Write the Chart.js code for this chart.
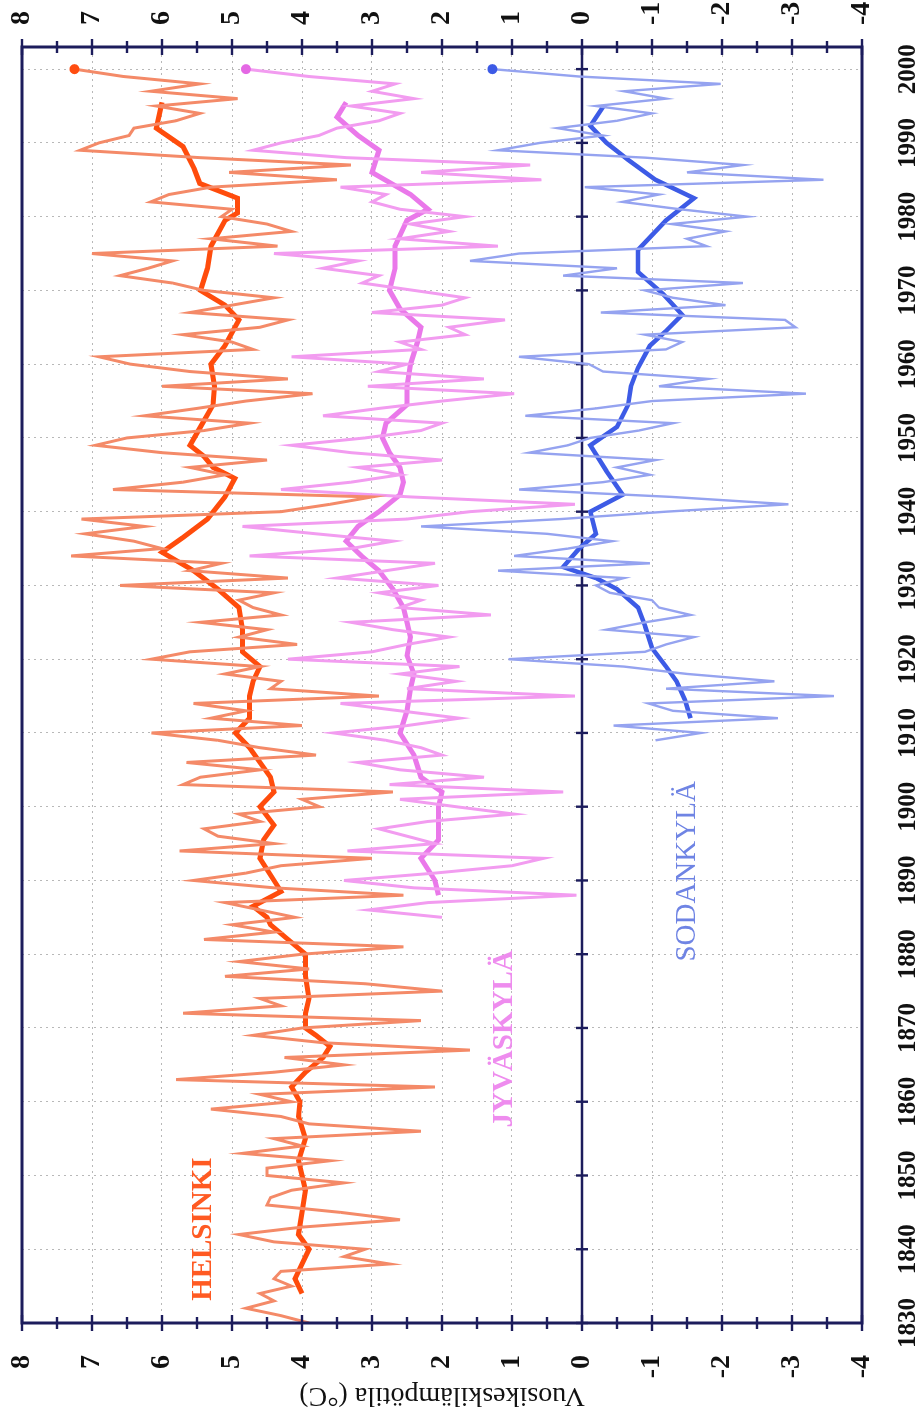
<!DOCTYPE html>
<html><head><meta charset="utf-8">
<script src="https://cdn.jsdelivr.net/npm/chart.js@4.4.1/dist/chart.umd.min.js"></script>
<style>
html,body{margin:0;padding:0;background:#fff;overflow:hidden;width:923px;height:1421px;}
#wrap{position:absolute;left:0;top:0;width:1421px;height:923px;transform-origin:0 0;transform:translate(0,1421px) rotate(-90deg);background:#fff;}
canvas{display:block;}
</style></head><body>
<div id="wrap"><canvas id="c" width="1421" height="923"></canvas></div>
<script>
// ---- data ----
const yearTicks = [1830,1840,1850,1860,1870,1880,1890,1900,1910,1920,1930,1940,1950,1960,1970,1980,1990,2000];
const tempTicks = [-4,-3,-2,-1,0,1,2,3,4,5,6,7,8];
const seriesNames = ['HELSINKI','JYVÄSKYLÄ','SODANKYLÄ'];
const axisTitle = 'Vuosikeskilämpötila (°C)';

const helsinkiFirstYear = 1830;
const helsinkiAnnual = [
 3.9,4.3,4.8,4.4,4.6,4.15,4.4,4.3,2.75,3.4,
 3.1,4.4,4.9,4.0,2.6,3.45,4.5,4.45,4.15,3.4,
 4.5,4.5,3.6,4.85,4.0,4.4,2.3,3.9,4.3,5.3,
 4.15,4.6,2.1,5.8,4.4,3.4,4.25,1.6,3.7,4.7,
 4.0,2.3,5.7,4.3,4.6,2.0,3.1,5.1,3.9,4.9,
 4.0,2.55,5.4,4.4,5.0,4.1,4.6,5.1,2.55,4.4,
 5.55,4.8,4.3,3.0,5.75,4.4,5.2,5.4,4.6,4.9,
 3.75,4.0,2.7,5.7,5.45,4.6,5.65,3.8,4.6,5.2,
 6.15,4.0,5.3,4.8,5.55,2.9,4.45,4.3,5.1,4.6,
 6.15,5.6,4.07,4.9,4.5,5.45,4.3,4.7,4.9,4.4,
 6.6,4.2,5.6,5.15,7.3,6.0,6.4,7.1,6.25,7.15,
 4.3,3.6,3.0,6.7,5.7,5.1,5.6,4.5,6.0,6.95,
 6.5,5.4,4.75,6.25,5.5,4.8,3.85,6.0,4.2,5.6,
 6.45,6.9,4.7,5.0,5.7,4.6,4.2,5.6,5.0,4.4,
 5.4,5.85,6.6,6.2,5.85,7.0,4.35,5.3,4.15,4.5,
 5.15,5.0,6.16,5.9,5.3,3.5,5.04,3.3,5.46,7.17,
 6.9,6.47,6.4,5.8,5.46,6.08,4.92,6.16,5.46,6.55,
 7.25];
const helsinkiSmoothYears = [1834,1836,1838,1840,1842,1845,1848,1850,1852,1855,1858,1860,1862,1864,1866,1867.5,1869,1870,1872,1874,1877,1880,1882,1884,1885,1886.5,1888.5,1890,1893,1895.5,1897.5,1900,1902,1904,1906,1908,1910,1912,1915,1917,1919,1921,1924,1927,1929.5,1932,1934.5,1936.5,1939,1942,1944.5,1946,1947.5,1949,1951.5,1954.5,1957,1960,1962.5,1966,1968,1970,1973,1976,1979.5,1980.5,1982.5,1984.5,1986.5,1989.5,1992,1995.5];
const helsinkiSmoothTemps = [4.0,4.1,4.0,3.9,4.05,4.0,3.95,4.0,4.05,3.95,4.05,4.03,4.15,3.95,3.7,3.6,3.8,3.95,3.95,3.9,3.95,3.95,4.2,4.45,4.5,4.7,4.3,4.4,4.6,4.55,4.4,4.6,4.4,4.45,4.6,4.75,4.95,4.75,4.75,4.7,4.6,4.85,4.85,4.9,5.2,5.55,6.0,5.7,5.35,5.1,4.96,5.27,5.4,5.6,5.45,5.27,5.25,5.3,5.1,4.9,5.1,5.45,5.35,5.3,5.1,4.92,4.92,5.46,5.54,5.7,6.08,6.0];

const jyvaskylaFirstYear = 1885;
const jyvaskylaAnnual = [
 2.0,3.05,2.2,0.08,2.4,
 3.4,2.1,1.0,0.55,3.35,2.1,2.5,2.9,2.2,0.97,
 1.8,2.6,0.27,2.75,1.4,2.6,3.2,2.0,2.3,2.8,
 3.55,2.5,1.75,2.6,3.45,0.1,2.5,1.8,2.6,1.75,
 4.2,3.0,2.5,1.9,2.7,3.3,1.3,2.6,2.3,2.9,
 2.05,3.5,2.8,2.1,4.75,3.3,2.7,3.8,4.85,2.5,
 1.6,0.1,2.45,4.3,3.3,2.6,3.2,2.0,3.3,4.15,
 3.1,2.3,2.0,3.7,2.9,2.0,0.97,3.06,1.4,2.9,
 2.5,4.15,2.3,2.6,1.67,1.9,1.1,3.0,2.0,1.67,
 2.4,3.14,2.9,3.7,3.2,4.4,1.2,2.6,1.9,2.45,
 1.67,2.6,3.0,2.8,3.45,0.58,2.3,0.74,3.37,4.7,
 4.3,3.76,3.5,2.9,2.6,3.3,2.4,3.0,2.67,3.9,
 4.8];
const jyvaskylaSmoothYears = [1888,1890,1893,1895.5,1898,1900,1902,1904,1907,1910,1913,1916,1918,1920.5,1923,1925,1927,1929.5,1932,1934,1936,1938,1940,1942.3,1944,1946,1948,1950,1952,1954.5,1957,1960,1963,1965,1967.5,1970,1973,1976,1979.5,1981,1983,1986,1989,1991,1993.5,1995.5];
const jyvaskylaSmoothTemps = [2.05,2.1,2.3,2.05,2.05,2.05,2.0,2.3,2.4,2.6,2.5,2.45,2.4,2.5,2.45,2.5,2.55,2.7,2.9,3.15,3.37,3.2,2.9,2.6,2.55,2.6,2.75,2.85,2.8,2.5,2.5,2.45,2.35,2.3,2.6,2.75,2.67,2.67,2.5,2.2,2.45,3.0,2.9,3.2,3.5,3.37];

const sodankylaFirstYear = 1909;
const sodankylaAnnual = [
 -1.05,
 -1.7,-0.45,-2.8,-1.3,-0.95,-3.6,-1.2,-2.75,-1.5,-0.6,
 1.05,-0.9,-1.2,-1.6,-0.35,-0.9,-1.55,-1.1,-1.0,-0.4,
 -0.2,-0.6,1.2,-0.97,0.97,0.2,-0.43,0.5,2.3,0.3,
 -1.2,-2.95,-1.28,0.9,-0.3,-0.97,-0.5,-1.05,0.75,0.2,
 -0.12,-0.81,-1.3,0.81,-0.2,-1.0,-3.2,-1.1,-1.8,-0.3,
 -0.1,0.9,-1.2,-1.43,-0.9,-3.05,-2.9,-0.27,-2.05,-1.3,
 -0.9,-2.3,0.27,-0.5,1.6,0.9,-1.78,-1.5,-2.05,-1.28,
 -2.36,-1.4,-0.58,-1.1,-0.04,-3.45,-1.5,-2.3,-0.9,1.2,
 0.6,-0.3,0.35,-0.5,-1.0,-0.2,-1.2,-0.6,-1.98,0.04,
 1.28];
const sodankylaSmoothYears = [1912,1914.5,1917,1919,1921.5,1924.5,1927,1929.5,1931,1932.5,1935,1937,1940,1942.3,1945.5,1949,1951.5,1954.5,1957,1959.5,1962.5,1964.5,1966.7,1969.5,1972.5,1975.5,1979.5,1982.5,1985,1987.7,1990,1992.3,1995];
const sodankylaSmoothTemps = [-1.55,-1.47,-1.35,-1.2,-1.0,-0.9,-0.8,-0.5,-0.2,0.27,0.04,-0.2,-0.12,-0.58,-0.35,-0.12,-0.5,-0.66,-0.7,-0.8,-0.97,-1.2,-1.43,-1.16,-0.8,-0.8,-1.2,-1.6,-1.05,-0.66,-0.35,-0.12,-0.31];

// ---- styling / layout (not data) ----
const SERIF = '"Liberation Serif","Times New Roman",serif';
const NAVY = '#1c1c5c';
const GRID = 'rgba(125,125,125,0.55)';
const labelAnchors = [ {x:1833, y:5.4}, {x:1856.5, y:1.1}, {x:1879, y:-1.5} ];
const labelStyles = [
  {color:'#ff5a22', weight:'bold'},
  {color:'#ee8cee', weight:'bold'},
  {color:'#6f84e4', weight:'normal'}
];

const annual = (first, arr) => arr.map((v,i)=>({x:first+i, y:v}));
const paired = (xs, ys) => xs.map((x,i)=>({x:x, y:ys[i]}));
const lastPoint = ctx => (ctx.dataIndex === ctx.dataset.data.length-1 ? 5 : 0);

const datasets = [
  {data:annual(helsinkiFirstYear,helsinkiAnnual), borderColor:'#f48a68', borderWidth:3, pointRadius:lastPoint, pointBackgroundColor:'#ff4d10', pointBorderWidth:0},
  {data:annual(jyvaskylaFirstYear,jyvaskylaAnnual), borderColor:'#f29cf0', borderWidth:3, pointRadius:lastPoint, pointBackgroundColor:'#e468e4', pointBorderWidth:0},
  {data:annual(sodankylaFirstYear,sodankylaAnnual), borderColor:'#95a3f0', borderWidth:2.4, pointRadius:lastPoint, pointBackgroundColor:'#3c5ae6', pointBorderWidth:0},
  {data:paired(helsinkiSmoothYears,helsinkiSmoothTemps), borderColor:'#ff4c0c', borderWidth:5, pointRadius:0},
  {data:paired(jyvaskylaSmoothYears,jyvaskylaSmoothTemps), borderColor:'#ea78ea', borderWidth:5, pointRadius:0},
  {data:paired(sodankylaSmoothYears,sodankylaSmoothTemps), borderColor:'#3d5be6', borderWidth:4.5, pointRadius:0}
];

const framePlugin = {
  id:'frameTicks',
  beforeDatasetsDraw(chart){
    const {ctx, chartArea:a, scales:{x, y}} = chart;
    const y0 = y.getPixelForValue(0);
    ctx.save();
    ctx.strokeStyle = NAVY; ctx.lineWidth = 2.6;
    ctx.beginPath(); ctx.moveTo(a.left, y0); ctx.lineTo(a.right, y0); ctx.stroke();
    ctx.lineWidth = 2.4;
    yearTicks.forEach(yr => {
      const px = x.getPixelForValue(yr);
      ctx.beginPath(); ctx.moveTo(px, y0-6); ctx.lineTo(px, y0+6); ctx.stroke();
    });
    ctx.restore();
  },
  afterDatasetsDraw(chart){
    const {ctx, chartArea:a, scales:{x, y}} = chart;
    ctx.save();
    ctx.textAlign = 'left'; ctx.textBaseline = 'middle';
    seriesNames.forEach((name,i) => {
      const st = labelStyles[i];
      ctx.font = st.weight + ' 29px ' + SERIF;
      ctx.fillStyle = st.color;
      ctx.fillText(name, x.getPixelForValue(labelAnchors[i].x), y.getPixelForValue(labelAnchors[i].y));
    });
    ctx.strokeStyle = NAVY; ctx.lineWidth = 3;
    ctx.strokeRect(a.left, a.top, a.right-a.left, a.bottom-a.top);
    ctx.lineWidth = 2.4;
    const marks = [];
    tempTicks.forEach((t,i) => {
      marks.push({v:t, len:8});
      if (i < tempTicks.length-1) marks.push({v:(t+tempTicks[i+1])/2, len:6});
    });
    marks.forEach(m => {
      const py = y.getPixelForValue(m.v);
      [a.left, a.right].forEach(ex => {
        ctx.beginPath(); ctx.moveTo(ex-m.len, py); ctx.lineTo(ex+m.len, py); ctx.stroke();
      });
    });
    ctx.restore();
  }
};

const setTemps = s => { s.ticks = tempTicks.map(v=>({value:v})); };
const fitVertical = w => s => { s.width = w; s.paddingTop = 0; s.paddingBottom = 0; };
const tickFont = {family:SERIF, size:28, weight:'bold'};

new Chart(document.getElementById('c'), {
  type:'line',
  data:{datasets},
  options:{
    responsive:false, animation:false, devicePixelRatio:1,
    layout:{padding:{top:22, left:0, right:0, bottom:0}},
    plugins:{legend:{display:false}, tooltip:{enabled:false}},
    elements:{line:{tension:0}, point:{radius:0}},
    scales:{
      x:{type:'linear', position:'bottom', min:1830, max:2003,
         afterBuildTicks: s => { s.ticks = yearTicks.map(v=>({value:v})); },
         afterFit: s => { s.height = 61; s.paddingLeft = 0; s.paddingRight = 0; },
         grid:{color:GRID, lineWidth:1, drawTicks:false},
         border:{display:false, dash:[2,4]},
         ticks:{padding:32, color:'#111', autoSkip:false, maxRotation:0, minRotation:0,
                font:{family:SERIF, size:25, weight:'bold'}, callback:v=>String(v)}},
      y:{type:'linear', position:'left', min:-4, max:8,
         afterBuildTicks: setTemps,
         afterFit: fitVertical(98),
         grid:{color:GRID, lineWidth:1, drawTicks:false},
         border:{display:false, dash:[2,4]},
         ticks:{padding:32, color:'#111', font:tickFont, callback:v=>String(v)},
         title:{display:true, text:axisTitle, color:'#111', font:{family:SERIF, size:28}, padding:{top:9, bottom:0}}},
      y2:{type:'linear', position:'right', min:-4, max:8,
         afterBuildTicks: setTemps,
         afterFit: fitVertical(47),
         grid:{display:false, drawTicks:false},
         border:{display:false},
         ticks:{padding:22, color:'#111', font:tickFont, callback:v=>String(v)}}
    }
  },
  plugins:[framePlugin]
});
</script>
</body></html>
